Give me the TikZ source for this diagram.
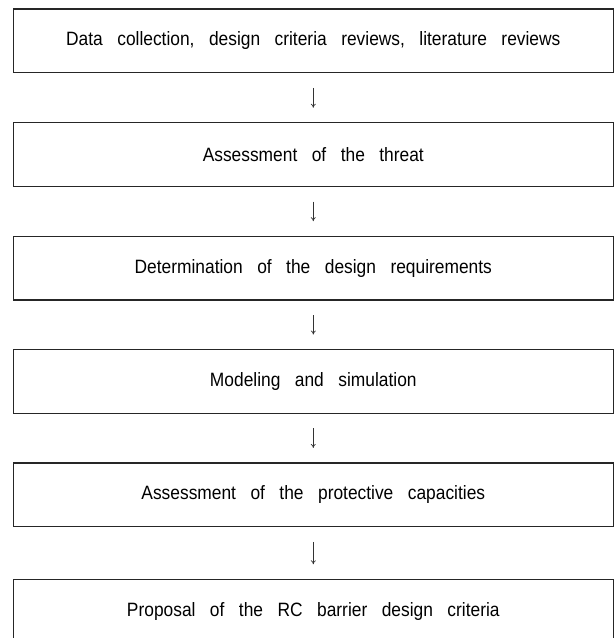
\documentclass[tikz,border=0pt]{standalone}
\usepackage{fontspec}
\setmainfont{Liberation Sans}[FakeStretch=0.9,WordSpace=3.0]
\usetikzlibrary{arrows.meta}
\begin{document}
\begin{tikzpicture}[x=1pt,y=-1pt,
  stepbox/.style={draw=black!85,line width=1.2pt,minimum width=600pt,minimum height=63.7pt,
    inner sep=0pt,font=\fontsize{19.3}{22}\selectfont},
  flow/.style={draw=black!80,line width=0.7pt,shorten <=14.5pt,shorten >=14.5pt,
    -{To[length=4pt,width=5pt]}}]
  \useasboundingbox (0,0) rectangle (614,638);
  \clip (0,0) rectangle (614,638);
  \node[stepbox] (s1) at (313.3,40.9) {Data collection, design criteria reviews, literature reviews};
  \node[stepbox] (s2) at (313.3,154.7) {Assessment of the threat};
  \node[stepbox] (s3) at (313.3,268.1) {Determination of the design requirements};
  \node[stepbox] (s4) at (313.3,381.5) {Modeling and simulation};
  \node[stepbox] (s5) at (313.3,494.9) {Assessment of the protective capacities};
  \node[stepbox] (s6) at (313.3,611.2) {Proposal of the RC barrier design criteria};
  \draw[flow] (s1) -- (s2);
  \draw[flow] (s2) -- (s3);
  \draw[flow] (s3) -- (s4);
  \draw[flow] (s4) -- (s5);
  \draw[flow] (s5) -- (s6);
\end{tikzpicture}
\end{document}
